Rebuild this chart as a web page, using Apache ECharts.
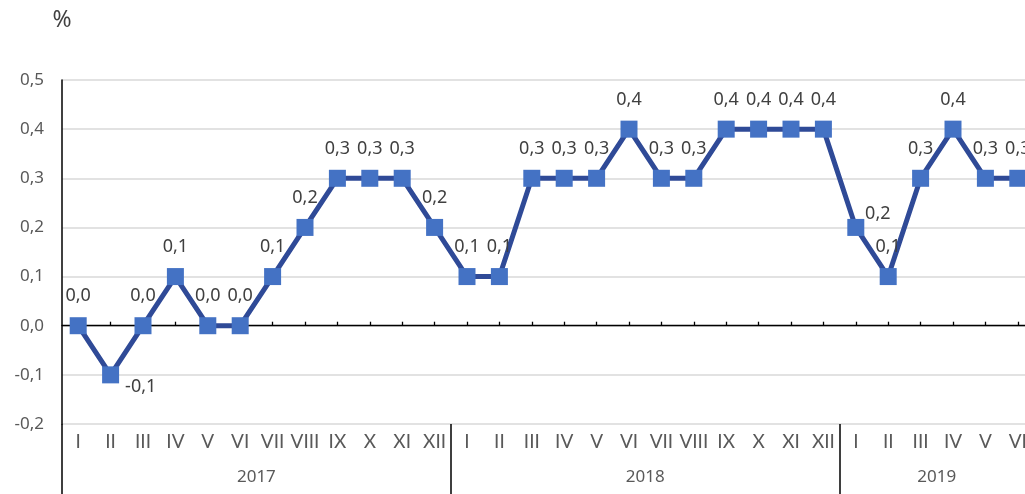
<!DOCTYPE html>
<html>
<head>
<meta charset="utf-8">
<style>
html,body{margin:0;padding:0;background:#fff;overflow:hidden;width:1025px;height:494px;}
#chart{width:1040px;height:494px;}
</style>
<script src="https://cdn.jsdelivr.net/npm/echarts@6/dist/echarts.min.js"></script>
</head>
<body>
<div id="chart"></div>
<script>
// ---- data ----
const years = ['2017', '2018', '2019'];
const monthsPerYear = [12, 12, 6];
const monthNames = ['I','II','III','IV','V','VI','VII','VIII','IX','X','XI','XII'];
const values2017 = [0.0, -0.1, 0.0, 0.1, 0.0, 0.0, 0.1, 0.2, 0.3, 0.3, 0.3, 0.2];
const values2018 = [0.1, 0.1, 0.3, 0.3, 0.3, 0.4, 0.3, 0.3, 0.4, 0.4, 0.4, 0.4];
const values2019 = [0.2, 0.1, 0.3, 0.4, 0.3, 0.3];
const yTicks = [-0.2, -0.1, 0.0, 0.1, 0.2, 0.3, 0.4, 0.5];

// ---- build ----
const categories = [];
monthsPerYear.forEach(n => { for (let i = 0; i < n; i++) categories.push(monthNames[i]); });
const values = values2017.concat(values2018, values2019);

const yearBounds = [0];
monthsPerYear.forEach(n => yearBounds.push(yearBounds[yearBounds.length - 1] + n));
const yearCenters = years.map((y, i) => (yearBounds[i] + yearBounds[i + 1]) / 2);

const fmt = v => v.toFixed(1).replace('.', ',');
const FONT = '"Noto Sans", sans-serif';
const FONT_ROMAN = 'Lato, "Noto Sans", sans-serif';

// label placement tweaks (style only)
const labelTweaks = {
  1: { position: 'right', distance: 6, offset: [0, 12] },
  24: { position: 'top', offset: [22, 16] }
};

const seriesData = values.map((v, i) => {
  const item = { value: v };
  if (labelTweaks[i]) item.label = labelTweaks[i];
  return item;
});

const chart = echarts.init(document.getElementById('chart'), null, { renderer: 'canvas' });
chart.setOption({
  animation: false,
  backgroundColor: '#ffffff',
  grid: { left: 62, top: 80, width: 972, height: 344, containLabel: false },
  xAxis: [
    {
      type: 'category',
      data: categories,
      position: 'bottom',
      boundaryGap: true,
      axisLine: { show: false, onZero: false },
      axisTick: { show: false },
      axisLabel: { interval: 0, color: '#595959', fontSize: 19, fontFamily: FONT_ROMAN, margin: 8 },
      splitLine: { show: false }
    },
    {
      type: 'category',
      data: categories,
      position: 'bottom',
      boundaryGap: true,
      axisLine: { show: true, onZero: true, lineStyle: { color: '#000000', width: 1.3 } },
      axisTick: { show: true, inside: true, alignWithLabel: true, length: 4, interval: 0, lineStyle: { color: '#000000', width: 1.3 } },
      axisLabel: { show: false },
      splitLine: { show: false }
    },
    {
      type: 'value',
      min: 0,
      max: yearBounds[yearBounds.length - 1],
      position: 'bottom',
      axisLine: { show: false, onZero: false },
      axisTick: { show: true, customValues: yearBounds, length: 72, lineStyle: { color: '#000000', width: 1.5 } },
      axisLabel: {
        customValues: yearCenters,
        formatter: v => { const i = yearCenters.indexOf(v); return i >= 0 ? years[i] : ''; },
        color: '#595959', fontSize: 17, fontFamily: FONT, margin: 45
      },
      splitLine: { show: false }
    }
  ],
  yAxis: {
    type: 'value',
    min: yTicks[0],
    max: yTicks[yTicks.length - 1],
    interval: 0.1,
    name: '%',
    nameLocation: 'end',
    nameGap: 48,
    nameTextStyle: { color: '#404040', fontSize: 23, fontFamily: FONT, align: 'center' },
    axisLine: { show: true, onZero: false, lineStyle: { color: '#000000', width: 1.5 } },
    axisTick: { show: false },
    axisLabel: { color: '#595959', fontSize: 17, fontFamily: FONT, margin: 18, formatter: v => fmt(v) },
    splitLine: { show: true, lineStyle: { color: '#d9d9d9', width: 1.5 } }
  },
  series: [{
    type: 'line',
    xAxisIndex: 0,
    data: seriesData,
    symbol: 'rect',
    symbolSize: 17,
    lineStyle: { color: '#2f4a97', width: 5 },
    itemStyle: { color: '#4472c4', borderWidth: 0 },
    label: {
      show: true,
      position: 'top',
      distance: 12,
      color: '#404040',
      fontSize: 18,
      fontFamily: FONT,
      formatter: p => fmt(p.value)
    },
    z: 5
  }]
});
</script>
</body>
</html>
